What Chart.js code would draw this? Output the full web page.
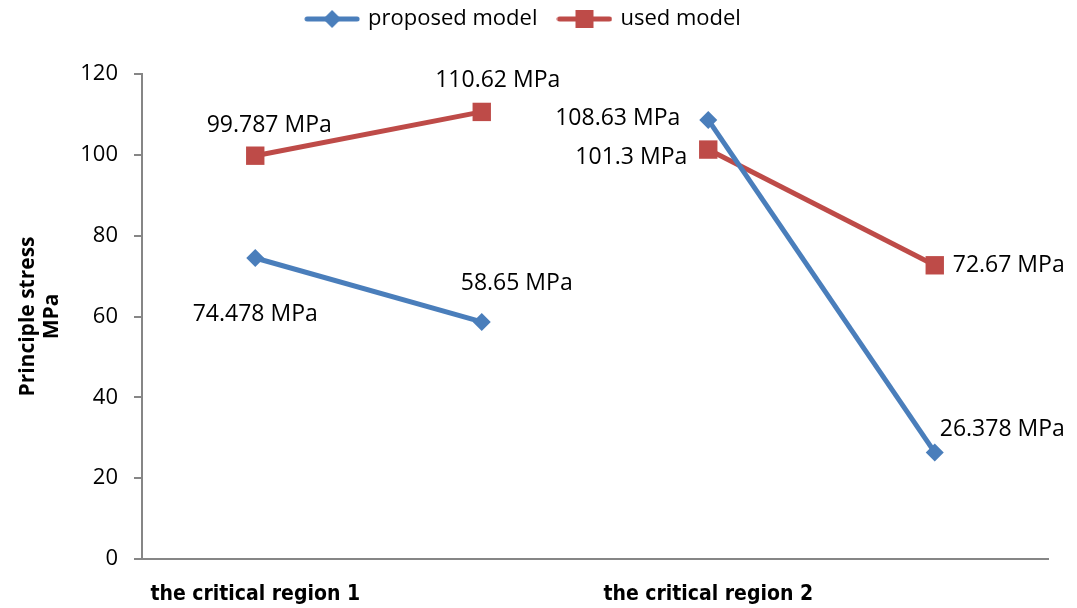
<!DOCTYPE html>
<html>
<head>
<meta charset="utf-8">
<script src="https://cdn.jsdelivr.net/npm/chart.js@4"></script>
<style>
  html, body { margin: 0; padding: 0; background: #fff; }
  #wrap { width: 1077px; height: 608px; }
</style>
</head>
<body>
<div id="wrap"><canvas id="chart"></canvas></div>
<script>
// ---------- data ----------
const categories    = ['the critical region 1', '', 'the critical region 2', ''];
const proposedModel = [74.478, 58.65, 108.63, 26.378];
const usedModel     = [99.787, 110.62, 101.3, 72.67];
const yTicks        = [0, 20, 40, 60, 80, 100, 120];
const unit = ' MPa';

const BLUE = '#4A7EBB';
const RED  = '#BE4B48';
const FONT = "'Open Sans', 'Noto Sans', sans-serif";

// where each value label sits relative to its point: [align, dx, dy]
const labelPos = [
  [['center', 0, 56], ['left', -21, -39], ['right', -28, -2], ['left', 5, -23]],
  [['center', 14, -30], ['center', 16, -31], ['right', -21, 8], ['left', 18, 0]]
];

// ---------- legend swatches (line + marker) ----------
function swatch(color, shape) {
  const c = document.createElement('canvas');
  c.width = 56; c.height = 22;
  const g = c.getContext('2d');
  g.strokeStyle = color; g.lineWidth = 5; g.lineCap = 'round';
  g.beginPath(); g.moveTo(3, 11); g.lineTo(53, 11); g.stroke();
  g.fillStyle = color;
  if (shape === 'diamond') {
    g.beginPath(); g.moveTo(28, 2); g.lineTo(37, 11); g.lineTo(28, 20); g.lineTo(19, 11); g.closePath(); g.fill();
  } else {
    g.fillRect(19, 2, 18, 18);
  }
  return c;
}
const legendIcons = [swatch(BLUE, 'diamond'), swatch(RED, 'square')];

// ---------- value labels plugin ----------
const valueLabels = {
  id: 'valueLabels',
  afterDatasetsDraw(chart) {
    const ctx = chart.ctx;
    ctx.save();
    ctx.font = '23px ' + FONT;
    ctx.fillStyle = '#000';
    ctx.textBaseline = 'middle';
    chart.data.datasets.forEach((ds, di) => {
      chart.getDatasetMeta(di).data.forEach((pt, i) => {
        const [align, dx, dy] = labelPos[di][i];
        ctx.textAlign = align;
        ctx.fillText(ds.data[i] + unit, pt.x + dx, pt.y + dy);
      });
    });
    ctx.restore();
  }
};

// extra space under the legend
const legendGap = {
  id: 'legendGap',
  beforeInit(chart) {
    const fit = chart.legend.fit;
    chart.legend.fit = function () {
      fit.bind(chart.legend)();
      this.height += 34;
    };
  }
};

const hideGap = ctx => ctx.p0DataIndex === 1 ? 'rgba(0,0,0,0)' : undefined;

new Chart(document.getElementById('chart'), {
  type: 'line',
  data: {
    labels: categories,
    datasets: [
      {
        label: 'proposed model',
        data: proposedModel,
        borderColor: BLUE,
        backgroundColor: BLUE,
        borderWidth: 5,
        pointStyle: 'rectRot',
        pointRadius: 9,
        pointHoverRadius: 9,
        pointBorderWidth: 0,
        tension: 0,
        segment: { borderColor: hideGap }
      },
      {
        label: 'used model',
        data: usedModel,
        borderColor: RED,
        backgroundColor: RED,
        borderWidth: 5,
        pointStyle: 'rect',
        pointRadius: 13,
        pointHoverRadius: 13,
        pointBorderWidth: 0,
        tension: 0,
        segment: { borderColor: hideGap }
      }
    ]
  },
  options: {
    responsive: true,
    maintainAspectRatio: false,
    animation: false,
    layout: { padding: { top: -14, right: 29, left: 0, bottom: 0 } },
    plugins: {
      legend: {
        display: true,
        position: 'top',
        labels: {
          usePointStyle: true,
          pointStyleWidth: 50,
          padding: 22,
          color: '#000',
          font: { family: FONT, size: 22 },
          generateLabels(chart) {
            const items = Chart.defaults.plugins.legend.labels.generateLabels(chart);
            items.forEach((it, i) => { it.pointStyle = legendIcons[i]; });
            return items;
          }
        }
      },
      tooltip: { enabled: false }
    },
    scales: {
      x: {
        offset: true,
        grid: { display: true, drawOnChartArea: false, drawTicks: false },
        border: { color: '#868686', width: 2 },
        ticks: {
          autoSkip: false,
          maxRotation: 0,
          padding: 23,
          color: '#000',
          font: { family: "'Liberation Sans Narrow', 'DejaVu Sans Condensed', sans-serif", size: 21, weight: 'bold' }
        },
        afterFit(scale) { scale.height = 49; }
      },
      y: {
        min: yTicks[0],
        max: yTicks[yTicks.length - 1],
        afterBuildTicks(scale) { scale.ticks = yTicks.map(v => ({ value: v })); },
        grid: { display: true, drawOnChartArea: false, drawTicks: true, tickLength: 8, color: '#868686', lineWidth: 2 },
        border: { color: '#868686', width: 2 },
        ticks: {
          padding: 16,
          color: '#000',
          font: { family: FONT, size: 22 }
        },
        title: {
          display: true,
          text: ['Principle stress', 'MPa'],
          color: '#000',
          font: { family: FONT, size: 21, weight: 'bold', lineHeight: 1.15 },
          padding: { top: 16, bottom: 0 }
        },
        afterFit(scale) { scale.width = 142; }
      }
    }
  },
  plugins: [valueLabels, legendGap]
});
</script>
</body>
</html>
